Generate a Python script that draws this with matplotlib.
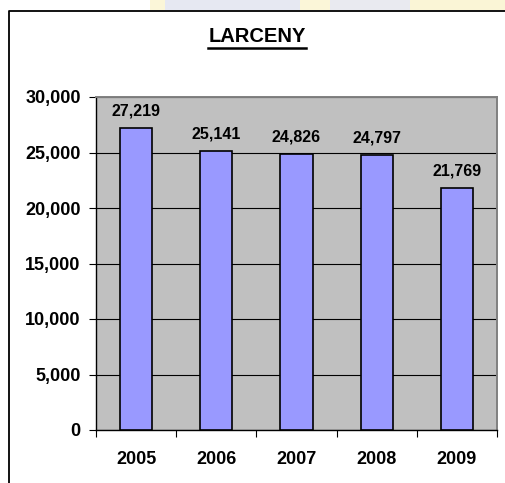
import numpy as np
import matplotlib
matplotlib.use("Agg")
import matplotlib.pyplot as plt
from matplotlib.lines import Line2D
from matplotlib.patches import Rectangle

years = ['2005', '2006', '2007', '2008', '2009']
larceny = [27219, 25141, 24826, 24797, 21769]
y_ticks = [0, 5000, 10000, 15000, 20000, 25000, 30000]

plt.rcParams['font.family'] = ['Liberation Sans', 'DejaVu Sans']
plt.rcParams['font.weight'] = 'bold'

W, H = 506, 483
fig = plt.figure(figsize=(W / 100, H / 100), dpi=100)
fig.patch.set_facecolor('white')

# faint backdrop strip above the chart frame
strip = [(150, 165, '#FBF6D8'), (165, 300, '#E6E8F2'), (300, 330, '#FBF6D8'),
         (330, 410, '#E9EAF0'), (410, 506, '#FAF5D6')]
for x0, x1, c in strip:
    fig.patches.append(Rectangle((x0 / W, (H - 10) / H), (x1 - x0) / W, 10 / H,
                                 transform=fig.transFigure, color=c, lw=0))

# chart frame, only left and top edges visible
fy = (H - 10.5) / H
fx = 8.5 / W
fig.add_artist(Line2D([fx, fx, 1.0], [0.0, fy, fy], transform=fig.transFigure,
                      color='black', linewidth=1.3))

ax = fig.add_axes([96 / W, (H - 430) / H, (497 - 96) / W, (430 - 97) / H])
ax.set_facecolor('#C0C0C0')

x = np.arange(len(years))
ax.bar(x, larceny, width=0.4, color='#9999FF', edgecolor='black',
       linewidth=1.2, zorder=3)

for xi, v in zip(x, larceny):
    ax.annotate(f'{v:,}', (xi, v), xytext=(0, 7), textcoords='offset points',
                ha='center', va='bottom', fontsize=11.5, fontweight='bold')

ax.set_xlim(-0.5, len(years) - 0.5)
ax.set_ylim(0, 30000)
ax.set_yticks(y_ticks)
ax.set_yticklabels([f'{t:,}' for t in y_ticks])
ax.yaxis.grid(True, color='black', linewidth=0.8, zorder=1)
ax.set_axisbelow(True)

ax.set_xticks(x)
ax.set_xticklabels(years)
ax.set_xticks(np.arange(-0.5, len(years)), minor=True)
ax.tick_params(axis='x', which='major', length=0, pad=15, labelsize=13)
ax.tick_params(axis='x', which='minor', length=5, width=0.8, direction='out')
ax.tick_params(axis='y', length=5, width=0.8, pad=6, labelsize=13)

for side in ['top', 'right']:
    ax.spines[side].set_color('#808080')
    ax.spines[side].set_linewidth(1.4)
for side in ['left', 'bottom']:
    ax.spines[side].set_color('black')
    ax.spines[side].set_linewidth(1.0)

title = fig.text(257 / W, (H - 36) / H, 'LARCENY', ha='center', va='center',
                 fontsize=14.5, fontweight='bold')
fig.canvas.draw()
bb = title.get_window_extent().transformed(fig.transFigure.inverted())
uy = (H - 47.5) / H
fig.add_artist(Line2D([bb.x0, bb.x1], [uy, uy], transform=fig.transFigure,
                      color='black', linewidth=1.8))

fig.savefig('out.png', dpi=100, facecolor=fig.get_facecolor())
